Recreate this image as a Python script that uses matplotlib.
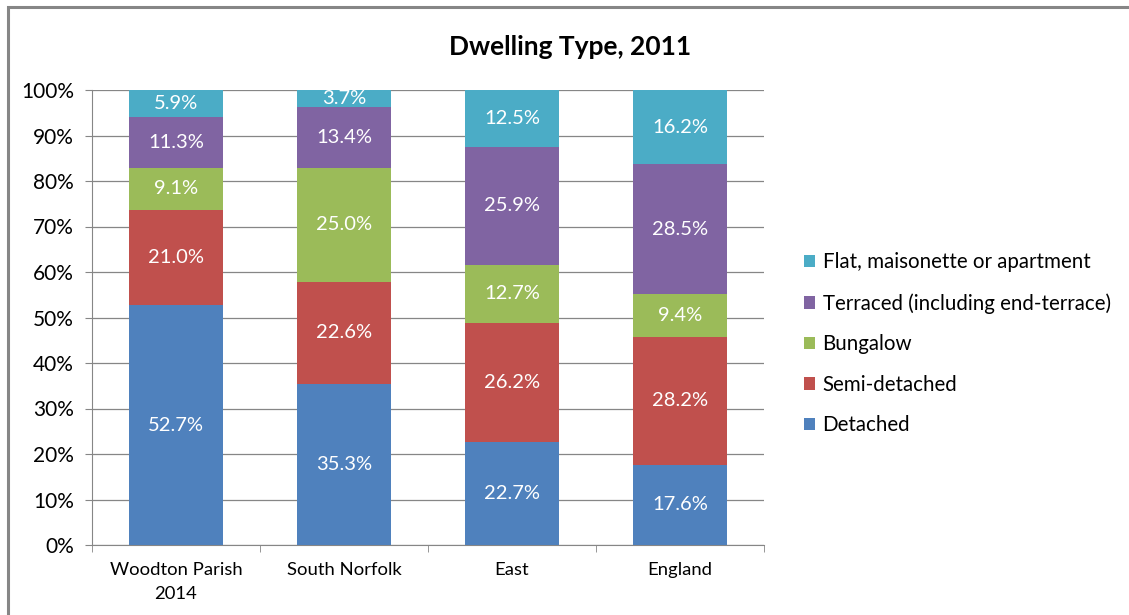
import matplotlib.pyplot as plt
from matplotlib.patches import Rectangle

plt.rcParams['font.family'] = ['Lato', 'DejaVu Sans']

areas = ['Woodton Parish\n2014', 'South Norfolk', 'East', 'England']
detached = [52.7, 35.3, 22.7, 17.6]
semi = [21.0, 22.6, 26.2, 28.2]
bungalow = [9.1, 25.0, 12.7, 9.4]
terraced = [11.3, 13.4, 25.9, 28.5]
flat = [5.9, 3.7, 12.5, 16.2]

series = [
    ('Detached', detached, '#4F81BD'),
    ('Semi-detached', semi, '#C0504D'),
    ('Bungalow', bungalow, '#9BBB59'),
    ('Terraced (including end-terrace)', terraced, '#8064A2'),
    ('Flat, maisonette or apartment', flat, '#4BACC6'),
]

fig = plt.figure(figsize=(11.29, 6.15), dpi=100)
# outer chart frame (runs off the right and bottom edges)
fig.patches.append(Rectangle((8 / 1129, -0.1), 1.2, 1.1 - 7 / 615,
                             transform=fig.transFigure, fill=False,
                             edgecolor='#868686', lw=2.2))
ax = fig.add_axes([92 / 1129, 70 / 615, 672 / 1129, 455 / 615])

x = list(range(len(areas)))
bottom = [0.0] * len(areas)
handles = []
for name, vals, col in series:
    bars = ax.bar(x, vals, 0.56, bottom=bottom, color=col, label=name, zorder=3)
    handles.append(bars)
    for xi, v, b in zip(x, vals, bottom):
        ax.text(xi, b + v / 2, f'{v:.1f}%', ha='center', va='center',
                color='white', fontsize=14.5, zorder=4)
    bottom = [b + v for b, v in zip(bottom, vals)]

ax.set_xlim(-0.5, len(areas) - 0.5)
ax.set_ylim(0, 100)
ax.set_yticks(range(0, 101, 10))
ax.set_yticklabels([f'{t}%' for t in range(0, 101, 10)], fontsize=15)
ax.set_xticks(x)
ax.set_xticklabels(areas, fontsize=13.3, linespacing=1.65)
ax.set_xticks([i - 0.5 for i in range(len(areas) + 1)], minor=True)
ax.tick_params(axis='x', which='major', length=0, pad=12)
ax.tick_params(axis='x', which='minor', length=5, color='#868686')
ax.tick_params(axis='y', length=5, color='#868686', pad=8)
ax.grid(axis='y', color='#868686', lw=0.9, zorder=0)
for s in ['top', 'right']:
    ax.spines[s].set_visible(False)
for s in ['left', 'bottom']:
    ax.spines[s].set_color('#868686')

fig.text(570 / 1129, 1 - 47 / 615, 'Dwelling Type, 2011', ha='center',
         va='center', fontsize=19, fontweight='bold')

ax.legend(handles[::-1], [s[0] for s in series][::-1], loc='center left',
          bbox_to_anchor=(1.032, 0.442), frameon=False, fontsize=14.8,
          handlelength=0.55, handleheight=0.55, handletextpad=0.35,
          labelspacing=1.0)

fig.savefig('out.png', dpi=100)
